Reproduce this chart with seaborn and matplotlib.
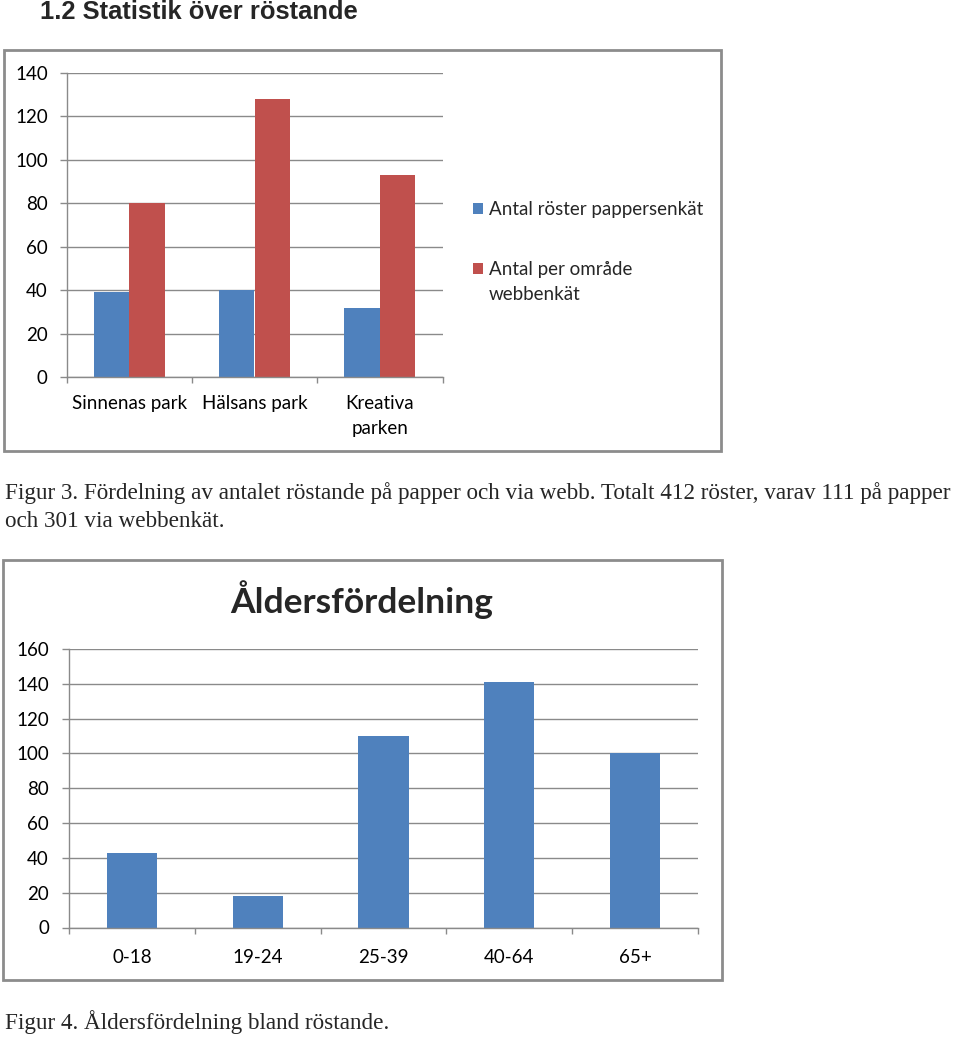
import matplotlib
matplotlib.use("Agg")
import matplotlib.pyplot as plt
from matplotlib.patches import Rectangle
import seaborn as sns
import pandas as pd

# ---- data ----
parks = ["Sinnenas park", "Hälsans park", "Kreativa\nparken"]
series_names = ["Antal röster pappersenkät", "Antal per område\nwebbenkät"]
paper_votes = [39, 40, 32]
web_votes = [80, 128, 93]

age_groups = ["0-18", "19-24", "25-39", "40-64", "65+"]
age_counts = [43, 18, 110, 141, 100]

heading = "1.2 Statistik över röstande"
caption3 = ("Figur 3. Fördelning av antalet röstande på papper och via webb. Totalt 412 röster, varav 111 på papper\n"
            "och 301 via webbenkät.")
caption4 = "Figur 4. Åldersfördelning bland röstande."
title2 = "Åldersfördelning"

BLUE = "#4F81BD"
RED = "#C0504D"
GRID = "#8a8a8a"
BOX = "#8c8c8c"

sns.set_theme(style="white")
plt.rcParams["font.family"] = ["Lato", "DejaVu Sans"]

W, H = 960, 1037
fig = plt.figure(figsize=(W / 100, H / 100), dpi=100)
fig.patch.set_facecolor("white")


def fx(px):
    return px / W


def fy(py):
    return 1 - py / H


def add_box(x0, y0, x1, y1):
    fig.add_artist(Rectangle((fx(x0), fy(y1)), fx(x1) - fx(x0), fy(y0) - fy(y1),
                             transform=fig.transFigure, fill=False,
                             edgecolor=BOX, linewidth=2))


def style_axes(ax, ncat, ymax, step, xfs, yfs, ypad, xpad):
    ax.set_ylim(0, ymax)
    ax.set_xlim(-0.5, ncat - 0.5)
    ax.set_yticks(range(0, ymax + 1, step))
    ax.yaxis.grid(True, color=GRID, linewidth=1)
    ax.xaxis.grid(False)
    ax.set_axisbelow(True)
    for s in ["top", "right"]:
        ax.spines[s].set_visible(False)
    for s in ["left", "bottom"]:
        ax.spines[s].set_color(GRID)
        ax.spines[s].set_linewidth(1)
    ax.set_xticks([i - 0.5 for i in range(ncat + 1)], minor=True)
    ax.tick_params(axis="x", which="minor", length=4, width=1, color=GRID, direction="out", bottom=True)
    ax.tick_params(axis="x", which="major", length=0, labelsize=xfs, pad=xpad, colors="black")
    ax.tick_params(axis="y", which="major", length=5, width=1, color=GRID, direction="out", left=True,
                   labelsize=yfs, pad=ypad, colors="black")
    ax.set_xlabel("")
    ax.set_ylabel("")
    ax.set_facecolor("white")


# heading
fig.text(fx(40), fy(12), heading, fontsize=18.4, fontweight="bold",
         family=["Liberation Sans", "DejaVu Sans"], va="center", ha="left")

# ---- chart 1 ----
add_box(4, 50, 721, 451)
ax1 = fig.add_axes([fx(66.5), fy(377), fx(442.5) - fx(66.5), fy(73) - fy(377)])
df1 = pd.DataFrame({
    "park": parks * 2,
    "value": paper_votes + web_votes,
    "serie": [series_names[0]] * 3 + [series_names[1]] * 3,
})
sns.barplot(data=df1, x="park", y="value", hue="serie", palette=[BLUE, RED],
            width=0.567, saturation=1, linewidth=0, ax=ax1)
style_axes(ax1, 3, 140, 20, 13.5, 13.5, 8.5, 13)
for lbl in ax1.get_xticklabels():
    lbl.set_linespacing(1.55)
handles, labels = ax1.get_legend_handles_labels()
leg = ax1.legend(handles, labels, loc="upper left", bbox_to_anchor=(fx(473), fy(201)),
                 bbox_transform=fig.transFigure, frameon=False, fontsize=13.5,
                 handlelength=0.53, handleheight=0.53, handletextpad=0.3,
                 labelspacing=2.3, borderpad=0, borderaxespad=0)
for t in leg.get_texts():
    t.set_linespacing(1.55)

fig.text(fx(5), fy(507), caption3, fontsize=16.65, family=["Liberation Serif", "DejaVu Serif"],
         va="center", ha="left", linespacing=1.47)

# ---- chart 2 ----
add_box(3, 560, 722, 980)
ax2 = fig.add_axes([fx(69), fy(927.5), fx(698) - fx(69), fy(649) - fy(927.5)])
sns.barplot(x=age_groups, y=age_counts, color=BLUE, width=0.40, saturation=1, linewidth=0, ax=ax2)
style_axes(ax2, 5, 160, 20, 13.5, 13.5, 9.4, 15.5)
fig.text(fx(362), fy(600), title2, fontsize=25.5, fontweight="bold", ha="center", va="center")

fig.text(fx(5), fy(1022), caption4, fontsize=16.7, family=["Liberation Serif", "DejaVu Serif"],
         va="center", ha="left")

# align the red legend square with the first line of its two-line label
fig.canvas.draw()
r = fig.canvas.get_renderer()
texts = leg.get_texts()
h1 = texts[0].get_window_extent(r).height
h2 = texts[1].get_window_extent(r).height
shift_pt = (h2 - h1) * 72.0 / fig.dpi - 8.0
patch = leg.legend_handles[1]
patch.set_y(patch.get_y() + shift_pt)

fig.savefig("out.png", dpi=100, facecolor="white")
